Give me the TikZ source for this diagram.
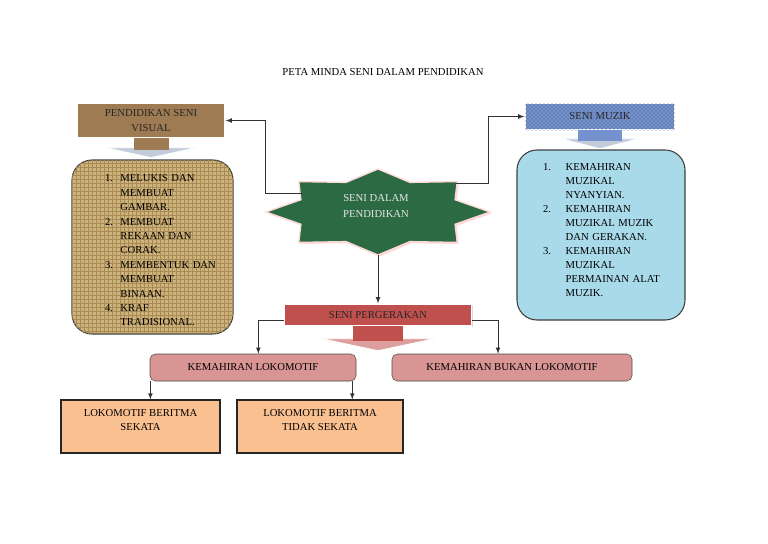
\documentclass[tikz,border=0pt]{standalone}
\usepackage{fontspec}
\setmainfont{Liberation Serif}
\usetikzlibrary{
    arrows,
    calc,
    positioning,
    shadows,
    patterns
}

\definecolor{visualbrown}{HTML}{9E7B52}
\definecolor{burlap}{HTML}{CDB27C}
\definecolor{weave}{HTML}{A88A55}
\definecolor{stargreen}{HTML}{2C6A44}
\definecolor{muzikblue}{HTML}{7492CE}
\definecolor{waterblue}{HTML}{A9DAEA}
\definecolor{gerakred}{HTML}{C0504D}
\definecolor{lokpink}{HTML}{D99594}
\definecolor{lokorange}{HTML}{FAC090}
\definecolor{headgrey}{HTML}{C3CCDA}

\tikzset{
    every node/.style={font=\fontsize{8}{10.5}\selectfont},
    callout/.style={draw=white, line width=1pt, drop shadow={shadow xshift=1pt, shadow yshift=-1pt, opacity=.3}, align=center, inner sep=2pt, text=black!85},
    listbox/.style={draw=black!75, line width=0.8pt, rounded corners=15pt, align=left},
    kemahiran/.style={draw=black!70, fill=lokpink, rounded corners=4pt, minimum height=20.25pt},
    lokbox/.style={draw=black!85, line width=0.8pt, fill=lokorange, minimum height=39.75pt, align=center},
    conn/.style={-latex, line width=0.6pt, black!80}
}

\begin{document}
\begin{tikzpicture}[x=0.75pt,y=-0.75pt]
    \useasboundingbox (0,0) rectangle (768,543);
    \node (title) at (383,72) {PETA MINDA SENI DALAM PENDIDIKAN};

    % tiga kotak callout
    \node[callout, fill=visualbrown, minimum width=111pt, minimum height=26.25pt, font=\fontsize{8}{11.25}\selectfont] (visual) at (151,120.5) {PENDIDIKAN SENI\\VISUAL};
    \node[callout, fill=muzikblue, postaction={pattern=crosshatch dots, pattern color=muzikblue!55!black}, minimum width=112.5pt, minimum height=20.25pt] (muzik) at (600,116.5) {SENI MUZIK};
    \node[callout, fill=gerakred, minimum width=140.25pt, minimum height=16.5pt] (gerak) at (378,315) {SENI PERGERAKAN};
    \foreach \n/\col/\hcol/\sw/\sh/\hw/\hh in {visual/visualbrown/headgrey/17.5/9/45.5/10, muzik/muzikblue/headgrey/22/8/39/10, gerak/gerakred/gerakred!55/25/12/56.5/12} {
        \filldraw[\hcol, draw=white, line width=0.6pt] ($(\n.south)+(-\hw,\sh)$) -- ($(\n.south)+(\hw,\sh)$) -- ($(\n.south)+(0,\sh+\hh)$) -- cycle;
        \fill[\col] ($(\n.south)+(-\sw,-0.8)$) rectangle ($(\n.south)+(\sw,\sh+2)$);
    }

    % senarai
    \node[listbox, fill=burlap, postaction={pattern=grid, pattern color=weave}, minimum width=120.75pt, minimum height=130.5pt, inner xsep=24.75pt, text width=71.25pt, font=\fontsize{8}{10.8}\selectfont] (vlist) at (152.5,247) {\begin{tabular}{@{}l@{\hspace{5.6pt}}l@{}}
        1. & MELUKIS DAN\\ & MEMBUAT\\ & GAMBAR.\\
        2. & MEMBUAT\\ & REKAAN DAN\\ & CORAK.\\
        3. & MEMBENTUK DAN\\ & MEMBUAT\\ & BINAAN.\\
        4. & KRAF\\ & TRADISIONAL.\\[-6pt]
    \end{tabular}};
    \node[listbox, fill=waterblue, minimum width=126pt, minimum height=127.5pt, inner xsep=19.5pt, text width=87pt] (mlist) at (601,235) {\begin{tabular}{@{}l@{\hspace{11pt}}l@{}}
        1. & KEMAHIRAN\\ & MUZIKAL\\ & NYANYIAN.\\
        2. & KEMAHIRAN\\ & MUZIKAL MUZIK\\ & DAN GERAKAN.\\
        3. & KEMAHIRAN\\ & MUZIKAL\\ & PERMAINAN ALAT\\ & MUZIK.\\[6pt]
    \end{tabular}};

    % bintang
    \begin{scope}[shift={(378,212)}]
        \fill[stargreen, draw=white!85!red, line width=1pt, drop shadow={fill=red!30!white, shadow xshift=1.2pt, shadow yshift=-1.2pt}] (0:112 and 43) \foreach \k [evaluate=\k as \r using {1-0.255*mod(\k,2)}] in {1,...,15} { -- ({\k*22.5}:{112*\r} and {43*\r}) } -- cycle;
    \end{scope}
    \node[text=white!90!black, align=center, font=\fontsize{8}{12}\selectfont] (star) at (376,206) {SENI DALAM\\PENDIDIKAN};
    \coordinate (starL) at (302,193);
    \coordinate (starR) at (456,183);
    \coordinate (starB) at (378,255);

    % kemahiran
    \node[kemahiran, minimum width=154.5pt] (lok) at (253,367.5) {KEMAHIRAN LOKOMOTIF};
    \node[kemahiran, minimum width=180pt] (bukan) at (512,367.5) {KEMAHIRAN BUKAN LOKOMOTIF};
    \node[lokbox, minimum width=119.25pt] (sekata) at (140.5,426.5) {LOKOMOTIF BERITMA\\SEKATA\\\mbox{}};
    \node[lokbox, minimum width=124.5pt] (tidak) at (320,426.5) {LOKOMOTIF BERITMA\\TIDAK SEKATA\\\mbox{}};

    % anak panah
    \draw[conn] (starL) -- ++(-37,0) |- (visual.east);
    \draw[conn] (starR) -- ++(32,0) |- (muzik.west);
    \draw[conn] (starB) -- (gerak.north);
    \draw[conn] ([yshift=-4pt]gerak.west) -| ([xshift=4pt]lok.north);
    \draw[conn] ([yshift=-4pt]gerak.east) -| ([xshift=-10.5pt]bukan.north);
    \draw[conn] ([xshift=0.5pt]lok.south west) -- ([xshift=0.5pt]lok.south west |- sekata.north);
    \draw[conn] ([xshift=-3pt]lok.south east) -- ([xshift=-3pt]lok.south east |- tidak.north);
\end{tikzpicture}
\end{document}
